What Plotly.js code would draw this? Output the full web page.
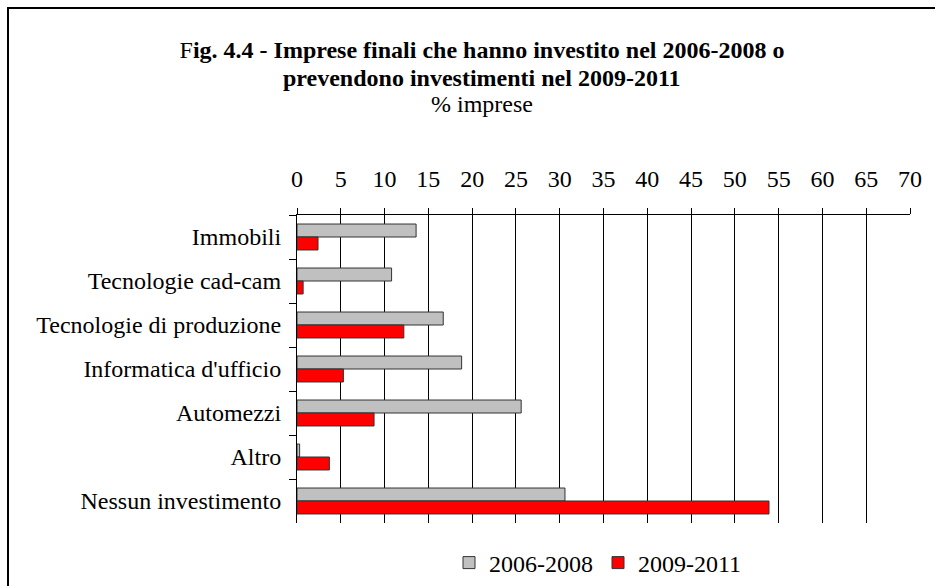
<!DOCTYPE html>
<html>
<head>
<meta charset="utf-8">
<script src="https://cdn.plot.ly/plotly-3.0.1.min.js"></script>
<style>
  html, body { margin: 0; padding: 0; background: #fff; overflow: hidden; }
  #wrap { position: relative; width: 935px; height: 586px; }
  #chart { width: 935px; height: 586px; }
  #frame { position: absolute; left: 7px; top: 7px; width: 940px; height: 600px;
           border-top: 2px solid #000; border-left: 2px solid #000; pointer-events: none; }
</style>
</head>
<body>
<div id="wrap">
  <div id="chart"></div>
  <div id="frame"></div>
</div>
<script>
const categories = [
  "Immobili",
  "Tecnologie cad-cam",
  "Tecnologie di produzione",
  "Informatica d'ufficio",
  "Automezzi",
  "Altro",
  "Nessun investimento"
];
const seriesNames = ["2006-2008", "2009-2011"];
const values2006_2008 = [13.6, 10.8, 16.7, 18.8, 25.6, 0.3, 30.6];
const values2009_2011 = [2.4, 0.7, 12.2, 5.3, 8.8, 3.7, 53.9];
const xTickValues = [0, 5, 10, 15, 20, 25, 30, 35, 40, 45, 50, 55, 60, 65, 70];
const titleLine1 = "F<b>ig. 4.4 - Imprese finali che hanno investito nel 2006-2008 o</b>";
const titleLine2 = "<b>prevendono investimenti nel 2009-2011</b>";
const titleLine3 = "% imprese";

const FONT = "Liberation Serif";

const traces = [
  {
    type: "bar", orientation: "h", name: seriesNames[0],
    y: categories, x: values2006_2008,
    marker: { color: "#C0C0C0", line: { color: "#333333", width: 1 } }
  },
  {
    type: "bar", orientation: "h", name: seriesNames[1],
    y: categories, x: values2009_2011,
    marker: { color: "#FF0000", line: { color: "#333333", width: 1 } }
  }
];

const L = 297, R = 25, T = 215, B = 63, W = 935, H = 586;
const pw = W - L - R, ph = H - T - B;
function px2x(p) { return (p - L) / pw; }
function py2y(p) { return (H - B - p) / ph; }
const titleX = px2x(482);

const layout = {
  width: W, height: H,
  margin: { l: L, r: R, t: T, b: B, pad: 0, autoexpand: false },
  paper_bgcolor: "#ffffff",
  plot_bgcolor: "#ffffff",
  font: { family: FONT, size: 24, color: "#000000" },
  title: {
    text: titleLine1,
    font: { family: FONT, size: 24, color: "#000000" },
    x: 482 / W, xanchor: "center",
    y: 1 - 50 / H, yanchor: "middle", yref: "container"
  },
  annotations: [
    {
      text: titleLine2, xref: "paper", yref: "paper",
      x: titleX, y: py2y(78), xanchor: "center", yanchor: "middle",
      showarrow: false, font: { family: FONT, size: 24, color: "#000000" }
    },
    {
      text: titleLine3, xref: "paper", yref: "paper",
      x: titleX, y: py2y(104), xanchor: "center", yanchor: "middle",
      showarrow: false, font: { family: FONT, size: 24, color: "#000000" }
    }
  ],
  barmode: "group",
  bargap: 0.41,
  bargroupgap: 0,
  showlegend: true,
  legend: {
    orientation: "h",
    x: px2x(598), xanchor: "center",
    yref: "container",
    y: (H - 563) / H, yanchor: "middle",
    font: { family: FONT, size: 24, color: "#000000" },
    bgcolor: "rgba(0,0,0,0)",
    itemwidth: 30,
    traceorder: "normal"
  },
  xaxis: {
    side: "top",
    range: [0, 70],
    tickvals: xTickValues,
    ticktext: xTickValues.map(String),
    ticks: "outside", ticklen: 6, tickcolor: "#000000", tickwidth: 1,
    ticklabelstandoff: 11,
    showline: true, linecolor: "#000000", linewidth: 1,
    showgrid: true, gridcolor: "#000000", gridwidth: 1,
    zeroline: false,
    tickfont: { family: FONT, size: 24, color: "#000000" },
    fixedrange: true
  },
  yaxis: {
    type: "category",
    autorange: "reversed",
    ticks: "outside", ticklen: 7, tickcolor: "#000000", tickwidth: 1,
    tickson: "boundaries",
    ticklabelstandoff: 10,
    showline: true, linecolor: "#000000", linewidth: 1,
    showgrid: false,
    zeroline: false,
    tickfont: { family: FONT, size: 24, color: "#000000" },
    fixedrange: true
  }
};

Plotly.newPlot("chart", traces, layout, { displayModeBar: false, staticPlot: true });
</script>
</body>
</html>
